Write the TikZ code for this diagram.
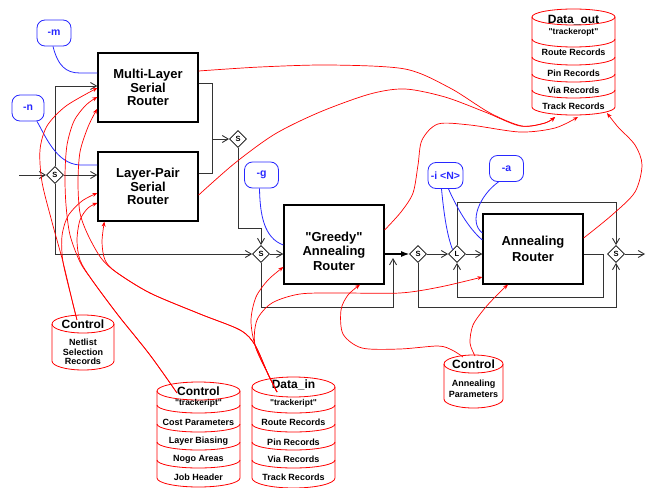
\documentclass[tikz,border=0pt]{standalone}
\usepackage{fontspec}
\setmainfont{Liberation Sans}[Ligatures=TeXOff]
\usetikzlibrary{arrows.meta,shapes.geometric}
\definecolor{optblue}{RGB}{40,40,255}
\newcommand{\cylshape}[5]{%
 \draw[cylline] (#1,#3) ellipse [x radius=#2, y radius=#5];
 \draw[cylline] ({#1-#2},#3) -- ({#1-#2},#4) .. controls ({#1-#2},{#4+0.552*#5}) and ({#1-0.552*#2},{#4+#5}) .. (#1,{#4+#5}) .. controls ({#1+0.552*#2},{#4+#5}) and ({#1+#2},{#4+0.552*#5}) .. ({#1+#2},#4) -- ({#1+#2},#3);
}
\newcommand{\cylsep}[4]{%
 \draw[cylline] ({#1-#2},#3) .. controls ({#1-#2},{#3+0.552*#4}) and ({#1-0.552*#2},{#3+#4}) .. (#1,{#3+#4}) .. controls ({#1+0.552*#2},{#3+#4}) and ({#1+#2},{#3+0.552*#4}) .. ({#1+#2},#3);
}
\begin{document}
\begin{tikzpicture}[x=1pt,y=-1pt,
 router/.style={draw=black, line width=1.3pt, fill=white, minimum width=100pt, align=center, inner sep=0pt},
 sw/.style={draw=black, shape=diamond, aspect=1, minimum width=17pt, minimum height=17pt, inner sep=0pt, fill=white, line width=0.8pt, font=\fontsize{7.5}{8}\selectfont\bfseries},
 opt/.style={draw=optblue, text=optblue, rounded corners=8pt, minimum width=34pt, minimum height=26pt, inner sep=0pt, line width=0.8pt, font=\fontsize{10.5}{12}\selectfont\bfseries},
 flow/.style={draw=black!80, line width=0.9pt, -{Straight Barb[length=6pt,width=7pt]}},
 wire/.style={draw=black!80, line width=0.9pt},
 rline/.style={draw=red, line width=0.7pt},
 rarrow/.style={rline, -{Stealth[length=5pt,width=4pt]}},
 bline/.style={draw=optblue, line width=0.8pt},
 cylline/.style={draw=red, line width=0.8pt},
 cyltitle/.style={font=\fontsize{12}{12}\selectfont\bfseries, inner sep=0pt},
 cylsub/.style={font=\fontsize{8.5}{9}\selectfont\bfseries, inner sep=0pt},
 cylrec/.style={font=\fontsize{9}{9.5}\selectfont\bfseries, inner sep=0pt, align=center},
]
\useasboundingbox (0,0) rectangle (647,487);

% ---------- cylinders ----------
\cylshape{573.5}{41.5}{17}{107}{8}
\cylsep{573.5}{41.5}{39}{8}
\cylsep{573.5}{41.5}{57}{8}
\cylsep{573.5}{41.5}{74}{8}
\cylsep{573.5}{41.5}{90}{8}
\node[cyltitle] (dot) at (573.5,20) {Data\_out};
\node[cylsub] (dos) at (573.5,32) {"trackeropt"};
\node[cylrec] (do1) at (573.5,52) {Route Records};
\node[cylrec] (do2) at (573.5,73) {Pin Records};
\node[cylrec] (do3) at (573.5,90) {Via Records};
\node[cylrec] (do4) at (573.5,106) {Track Records};

\cylshape{83}{31}{324}{361}{9}
\node[cyltitle] (cnt) at (83,324) {Control};
\node[cylrec] (cnr) at (83,352) {Netlist\\Selection\\Records};

\cylshape{198.5}{41.5}{391}{478}{9}
\cylsep{198.5}{41.5}{405}{8}
\cylsep{198.5}{41.5}{424}{8}
\cylsep{198.5}{41.5}{442}{8}
\cylsep{198.5}{41.5}{460}{8}
\node[cyltitle] (ctt) at (198.5,391) {Control};
\node[cylsub] (cts) at (198.5,403) {"trackeript"};
\node[cylrec] (ct1) at (198.5,422) {Cost Parameters};
\node[cylrec] (ct2) at (198.5,441) {Layer Biasing};
\node[cylrec] (ct3) at (198.5,459) {Nogo Areas};
\node[cylrec] (ct4) at (198.5,477) {Job Header};

\cylshape{293.5}{41.5}{387}{478}{10}
\cylsep{293.5}{41.5}{405}{8}
\cylsep{293.5}{41.5}{424}{8}
\cylsep{293.5}{41.5}{442}{8}
\cylsep{293.5}{41.5}{460}{8}
\node[cyltitle] (dit) at (293.5,385) {Data\_in};
\node[cylsub] (dis) at (293.5,403) {"trackeript"};
\node[cylrec] (di1) at (293.5,422) {Route Records};
\node[cylrec] (di2) at (293.5,442) {Pin Records};
\node[cylrec] (di3) at (293.5,459) {Via Records};
\node[cylrec] (di4) at (293.5,477) {Track Records};

\cylshape{473.5}{29.5}{364}{399}{9}
\node[cyltitle] (cat) at (473.5,364) {Control};
\node[cylrec, font=\fontsize{9}{11.5}\selectfont\bfseries] (car) at (473.5,389) {Annealing\\Parameters};

% ---------- routers ----------
\node[router, minimum height=69pt, font=\fontsize{13}{13.3}\selectfont\bfseries] (ml) at (148,87.5) {Multi-Layer\\Serial\\Router};
\node[router, minimum height=69pt, font=\fontsize{13}{13.5}\selectfont\bfseries] (lp) at (148,186.5) {Layer-Pair\\Serial\\Router};
\node[router, minimum height=79pt] (gr) at (334,244.5) {};
\node[font=\fontsize{13}{14.5}\selectfont\bfseries, align=center, inner sep=0pt] (grt) at (334,251) {"Greedy"\\Annealing\\Router};
\node[router, minimum height=70pt, font=\fontsize{13}{16.5}\selectfont\bfseries] (an) at (533,249) {Annealing\\Router};

% ---------- switches ----------
\node[sw] (s1) at (55,175) {S};
\node[sw] (s2) at (238,139) {S};
\node[sw] (s3) at (261,254) {S};
\node[sw] (s4) at (418,254) {S};
\node[sw] (l) at (457,254) {L};
\node[sw] (s5) at (616,254) {S};

% ---------- option labels ----------
\node[opt] (om) at (54,33) {-m};
\node[opt, minimum width=32pt] (on) at (28,108) {-n};
\node[opt] (og) at (261.5,175) {-g};
\node[opt, minimum width=35pt] (oi) at (445.5,175.5) {-i <N>};
\node[opt] (oa) at (506.5,168.5) {-a};

% ---------- coordinates ----------
\coordinate (inp) at (19,175);
\coordinate (outp) at (645,254);
\coordinate (j1) at (212,139);
\coordinate (c1) at (393,307);
\coordinate (c2) at (393,258);
\coordinate (c3) at (603,254);

% ---------- black flow ----------
\draw[flow] (inp) -- (s1.west);
\draw[flow] (s1.east) -- (lp.west |- s1);
\draw[flow] (s1.north) |- (ml.west |- 0,86);
\draw[flow] (s1.south) |- (s3.west);
\draw[wire] (ml.east |- 0,83) -| (212,173) -- (lp.east |- 0,173);
\draw[flow] (j1) -- (s2.west);
\draw[flow] (s2.south) |- (s3.north |- 0,228) -- (s3.north);
\draw[flow] (s3.east) -- (gr.west |- s3);
\draw[flow] (s3.south) |- (c1) -- (c2);
\draw[draw=black, line width=1.1pt, -{Latex[length=8pt,width=6pt]}] (gr.east |- s4) -- (s4.west);
\draw[flow] (s4.east) -- (l.west);
\draw[flow] (s4.south) |- (s5.south |- 0,307) -- (s5.south);
\draw[flow] (l.east) -- (an.west |- l);
\draw[flow] (an.east |- l) -- (c3) |- (l.south |- 0,297) -- (l.south);
\draw[flow] (l.north) |- (s5.north |- 0,202) -- (s5.north);
\draw[flow] (s5.east) -- (outp);

% ---------- blue option lines ----------
\draw[bline] ([xshift=-1pt]om.south) .. controls (58,66) and (66,73) .. (80,73) -- (ml.west |- 0,73);
\draw[bline] ([xshift=9pt]on.south) .. controls (45,135) and (56,164) .. (80,165) -- (lp.west |- 0,165);
\draw[bline] ([xshift=-2pt]og.south) .. controls (260,215) and (264,238) .. (gr.west |- 0,245);
\draw[bline] ([xshift=-4pt]oi.south) .. controls (444,215) and (447,235) .. (l.north west);
\draw[bline] ([xshift=3pt]oi.south) .. controls (456,206) and (468,228) .. (an.west |- 0,240);
\draw[bline] ([xshift=-8pt]oa.south) .. controls (480,195) and (468,222) .. (an.west |- 0,233);

% ---------- red data lines ----------
\coordinate (mlR) at (ml.east |- 0,71);
\coordinate (lpR) at (lp.east |- 0,195);
\coordinate (grR) at (gr.east |- 0,230);
\coordinate (anR) at (an.east |- 0,238);
\coordinate (dout1) at (555,117);
\coordinate (dout2) at (578,117);
\coordinate (dout3) at (607,113);
\coordinate (mlA) at (ml.west |- 0,88);
\coordinate (mlB) at (ml.west |- 0,97);
\coordinate (mlC) at (97,109);
\coordinate (lpA) at (lp.west |- 0,193);
\coordinate (lpB) at (lp.west |- 0,203);
\coordinate (lpC) at ([xshift=7pt]lp.south west);
\coordinate (grA) at (gr.west |- 0,267);
\coordinate (grB) at ([xshift=26pt]gr.south);
\coordinate (anA) at (an.west |- 0,277);
\coordinate (anB) at ([xshift=-25pt]an.south);
\coordinate (netS) at (77,320);
\coordinate (ctlS) at (177,393);
\coordinate (dinS) at (277,392);
\coordinate (canS1) at (463,357);
\coordinate (canS2) at (475,356);

\draw[rarrow] plot[smooth] coordinates {(netS) (72,300) (63,262) (52,222) (42,182) (40,150) (47,126) (66,106) (mlA)};
\draw[rarrow] plot[smooth] coordinates {(netS) (72,300) (63,262) (62,236) (68,216) (82,201) (lpA)};
\draw[rarrow] plot[smooth] coordinates {(ctlS) (150,355) (118,315) (92,280) (80,262) (70,235) (66,205) (65,175) (67,145) (74,121) (86,105) (mlB)};
\draw[rarrow] plot[smooth] coordinates {(ctlS) (150,355) (118,315) (92,280) (80,260) (77,240) (80,220) (88,208) (lpB)};
\draw[rarrow] plot[smooth] coordinates {(dinS) (268,374) (255,345) (240,330) (200,314) (150,293) (116,272) (101,258) (88,235) (80,213) (78,183) (80,152) (88,127) (mlC)};
\draw[rarrow] plot[smooth] coordinates {(dinS) (268,374) (255,345) (240,330) (200,314) (150,293) (116,272) (105,260) (102,242) (lpC)};
\draw[rarrow] plot[smooth] coordinates {(dinS) (268,374) (255,345) (251,320) (256,297) (268,280) (grA)};
\draw[rarrow] plot[smooth] coordinates {(dinS) (268,374) (255,345) (257,320) (272,303) (300,294) (340,293) (400,293) (440,287) (anA)};
\draw[rarrow] plot[smooth] coordinates {(canS1) (452,350) (438,346) (400,349) (362,348) (343,334) (341,310) (348,295) (grB)};
\draw[rarrow] plot[smooth] coordinates {(canS2) (470,343) (473,325) (485,308) (500,292) (anB)};
\draw[rarrow] plot[smooth] coordinates {(mlR) (260,67) (330,65) (405,69) (450,88) (490,113) (522,126) (545,123) (dout1)};
\draw[rarrow] plot[smooth] coordinates {(lpR) (235,163) (275,134) (320,112) (370,94) (405,89) (445,97) (485,112) (520,126) (545,123) (dout1)};
\draw[rarrow] plot[smooth] coordinates {(grR) (401,212) (413,193) (418,165) (422,140) (438,124) (470,125) (520,132) (555,128) (dout2)};
\draw[rarrow] plot[smooth] coordinates {(anR) (612,215) (635,192) (642,165) (635,145) (618,127) (dout3)};
\end{tikzpicture}
\end{document}
